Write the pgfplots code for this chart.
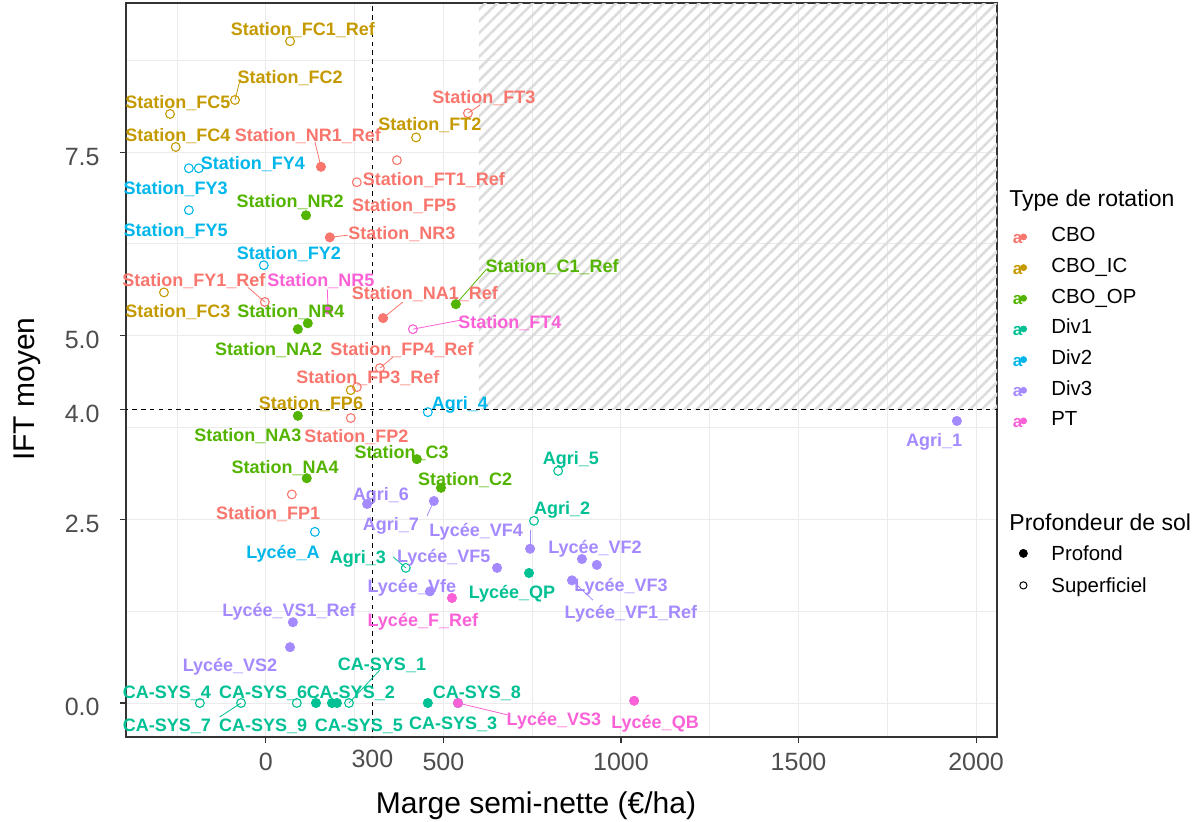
\documentclass[border=0pt]{standalone}
\usepackage{fontspec}
\setmainfont{Liberation Sans}
\usepackage{pgfplots}
\pgfplotsset{compat=1.18}
\usetikzlibrary{patterns.meta}
\definecolor{cCBO}{HTML}{F8766D}
\definecolor{cIC}{HTML}{C49A00}
\definecolor{cOP}{HTML}{53B400}
\definecolor{cDa}{HTML}{00C094}
\definecolor{cDb}{HTML}{00B6EB}
\definecolor{cDc}{HTML}{A58AFF}
\definecolor{cPT}{HTML}{FB61D7}
\definecolor{gridc}{HTML}{EBEBEB}
\definecolor{hatchc}{HTML}{DCDCDC}
\definecolor{tickc}{HTML}{4D4D4D}
\definecolor{framec}{HTML}{333333}

\tikzset{lab/.style={font=\bfseries\fontsize{9}{9}\selectfont, inner sep=0pt, text height=6.45pt, text depth=0pt, anchor=center}}
\newcommand{\lab}[4]{\node[lab, text=#1] at (axis cs:#2,#3) {#4};}
\newcommand{\seg}[5]{\addplot[forget plot, mark=none, color=#1, line width=0.4pt] coordinates {(#2,#3) (#4,#5)};}
\pgfplotsset{
  keyA/.style={legend image code/.code={%
    \path[draw=none, fill=none] (0pt,-3pt) rectangle (13pt,3pt);
    \node[draw=none, inner sep=0pt, font=\bfseries\fontsize{8.5}{8.5}\selectfont, text height=4.4pt, text depth=0pt, anchor=center] at (5.6pt,-0.2pt) {a};
    \fill (8.6pt,0.8pt) circle (1.5pt);}},
  fillpt/.style={only marks, mark=*, mark size=2.3pt, forget plot},
  openpt/.style={only marks, mark=o, mark size=2.2pt, line width=0.55pt, forget plot},
}

\begin{document}
\begin{tikzpicture}
\begin{axis}[
  at={(0,0)}, anchor=south west,
  scale only axis, width=435.5pt, height=367pt,
  xmin=-394, xmax=2059, ymin=-0.463, ymax=9.53,
  axis line style={framec, line width=0.55pt},
  xtick={0,500,1000,1500,2000},
  xticklabels={0,500,1000,1500,2000},
  extra x ticks={300}, extra x tick labels={300},
  extra x tick style={major tick length=0pt, xticklabel style={yshift=-2pt}},
  ytick={0,2.5,4,5,7.5},
  yticklabels={0.0,2.5,4.0,5.0,7.5},
  minor xtick={-250,0,250,500,750,1000,1250,1500,1750,2000},
  minor ytick={0,1.25,2.5,3.75,5,6.25,7.5,8.75},
  minor tick length=0pt,
  xminorgrids, yminorgrids,
  minor grid style={gridc, line width=0.5pt},
  tick align=outside, tick pos=left,
  major tick length=3.2pt,
  tick style={framec, line width=0.55pt},
  ticklabel style={font=\fontsize{12.5}{12.5}\selectfont, text=tickc, inner sep=0pt, text height=8.95pt, text depth=0pt},
  xticklabel style={anchor=north, yshift=-4.3pt},
  yticklabel style={anchor=east, xshift=-9.8pt, yshift=-2pt},
  xlabel={Marge semi-nette (€/ha)},
  ylabel={IFT moyen},
  xlabel style={font=\fontsize{15}{15}\selectfont, at={(axis description cs:0.4707,-0.0899)}, anchor=center, inner sep=0pt, text height=10.7pt, text depth=0pt},
  ylabel style={font=\fontsize{15}{15}\selectfont, at={(axis description cs:-0.1171,0.474)}, anchor=center, inner sep=0pt, text height=10.7pt, text depth=0pt},
  clip mode=individual,
  legend style={at={(1.0103,0.7005)}, anchor=north west, draw=none, fill=none, inner sep=0pt, row sep=0pt, column sep=9.5pt, font=\fontsize{10.2}{10.2}\selectfont, nodes={inner sep=0pt, text height=9.32pt, text depth=6.01pt}},
  legend cell align=left,
]
% hatched zone
\addplot[forget plot, draw=none, mark=none, pattern={Lines[angle=45,distance=4.2pt,line width=1.3pt]}, pattern color=hatchc] coordinates {(600,4) (2200,4) (2200,10) (600,10) (600,4)};
% reference lines
\addplot[forget plot, mark=none, black, line width=0.5pt, dash pattern=on 2.2pt off 2.2pt] coordinates {(300,-1) (300,10)};
\addplot[forget plot, mark=none, black, line width=0.5pt, dash pattern=on 2.2pt off 2.2pt] coordinates {(-500,4) (2200,4)};

% CBO
\addplot[fillpt, color=cCBO] coordinates {(155,7.30) (180,6.34) (330,5.24)};
\addplot[openpt, color=cCBO] coordinates {(256,7.09) (369,7.39) (569,8.03) (-3,5.46) (321,4.56) (256,4.30) (239,3.88) (73,2.84)};
% CBO_IC
\addplot[openpt, color=cIC] coordinates {(68,9.01) (-87,8.21) (-270,8.02) (-254,7.57) (423,7.70) (-287,5.59) (239,4.26)};
% CBO_OP
\addplot[fillpt, color=cOP] coordinates {(113,6.64) (118,5.17) (90,5.09) (535,5.43) (90,3.91) (425,3.32) (115,3.06) (493,2.93)};
% Div1
\addplot[fillpt, color=cDa] coordinates {(741,1.77) (141,0) (186,0) (200,0) (456,0) (541,0)};
\addplot[openpt, color=cDa] coordinates {(823,3.16) (755,2.48) (394,1.84) (-186,0) (-70,0) (87,0) (234,0)};
% Div2
\addplot[openpt, color=cDb] coordinates {(-217,7.28) (-189,7.28) (-217,6.71) (-6,5.96) (456,3.96) (138,2.33)};
% Div3
\addplot[fillpt, color=cDc] coordinates {(1946,3.84) (285,2.71) (473,2.75) (651,1.84) (462,1.52) (76,1.10) (68,0.76) (744,2.10) (890,1.96) (932,1.88) (862,1.67)};
% PT
\addplot[fillpt, color=cPT] coordinates {(175,5.36) (524,1.43) (541,0) (1037,0.03)};
\addplot[openpt, color=cPT] coordinates {(414,5.09)};

% leader segments
\seg{cIC}{-87}{8.21}{-73}{8.48}
\seg{cCBO}{155}{7.30}{138}{7.64}
\seg{cCBO}{180}{6.34}{231}{6.37}
\seg{cCBO}{569}{8.03}{603}{8.14}
\seg{cCBO}{-3}{5.46}{-51}{5.66}
\seg{cPT}{175}{5.36}{173}{5.63}
\seg{cCBO}{330}{5.24}{386}{5.46}
\seg{cOP}{535}{5.43}{620}{5.90}
\seg{cPT}{414}{5.09}{546}{5.21}
\seg{cCBO}{321}{4.56}{358}{4.71}
\seg{cDc}{473}{2.75}{454}{2.55}
\seg{cDa}{394}{1.84}{358}{1.99}
\seg{cDc}{744}{2.10}{744}{2.35}
\seg{cDc}{862}{1.67}{921}{1.40}
\seg{cDa}{234}{0}{321}{0.45}
\seg{cDa}{-70}{0}{-130}{-0.19}
\seg{cPT}{541}{0}{679}{-0.16}

% labels CBO
\lab{cCBO}{118}{7.73}{Station\_NR1\_Ref}
\lab{cCBO}{383}{6.40}{Station\_NR3}
\lab{cCBO}{473}{7.13}{Station\_FT1\_Ref}
\lab{cCBO}{389}{6.78}{Station\_FP5}
\lab{cCBO}{614}{8.25}{Station\_FT3}
\lab{cCBO}{-203}{5.76}{Station\_FY1\_Ref}
\lab{cCBO}{448}{5.58}{Station\_NA1\_Ref}
\lab{cCBO}{383}{4.82}{Station\_FP4\_Ref}
\lab{cCBO}{287}{4.44}{Station\_FP3\_Ref}
\lab{cCBO}{255}{3.63}{Station\_FP2}
\lab{cCBO}{6}{2.59}{Station\_FP1}
% labels CBO_IC
\lab{cIC}{104}{9.17}{Station\_FC1\_Ref}
\lab{cIC}{68}{8.52}{Station\_FC2}
\lab{cIC}{-248}{8.18}{Station\_FC5}
\lab{cIC}{-248}{7.73}{Station\_FC4}
\lab{cIC}{462}{7.88}{Station\_FT2}
\lab{cIC}{-248}{5.34}{Station\_FC3}
\lab{cIC}{127}{4.08}{Station\_FP6}
% labels CBO_OP
\lab{cOP}{68}{6.83}{Station\_NR2}
\lab{cOP}{70}{5.34}{Station\_NR4}
\lab{cOP}{8}{4.82}{Station\_NA2}
\lab{cOP}{806}{5.95}{Station\_C1\_Ref}
\lab{cOP}{-51}{3.65}{Station\_NA3}
\lab{cOP}{382}{3.42}{Station\_C3}
\lab{cOP}{54}{3.21}{Station\_NA4}
\lab{cOP}{561}{3.05}{Station\_C2}
% labels Div1
\lab{cDa}{259}{1.99}{Agri\_3}
\lab{cDa}{-279}{0.15}{CA-SYS\_4}
\lab{cDa}{-8}{0.15}{CA-SYS\_6}
\lab{cDa}{239}{0.15}{CA-SYS\_2}
\lab{cDa}{327}{0.53}{CA-SYS\_1}
\lab{cDa}{-279}{-0.30}{CA-SYS\_7}
\lab{cDa}{-8}{-0.30}{CA-SYS\_9}
\lab{cDa}{262}{-0.30}{CA-SYS\_5}
\lab{cDa}{594}{0.15}{CA-SYS\_8}
\lab{cDa}{527}{-0.27}{CA-SYS\_3}
\lab{cDa}{859}{3.33}{Agri\_5}
\lab{cDa}{834}{2.65}{Agri\_2}
\lab{cDa}{693}{1.51}{Lycée\_QP}
% labels Div2
\lab{cDb}{-37}{7.35}{Station\_FY4}
\lab{cDb}{-254}{7.01}{Station\_FY3}
\lab{cDb}{-254}{6.44}{Station\_FY5}
\lab{cDb}{65}{6.12}{Station\_FY2}
\lab{cDb}{546}{4.08}{Agri\_4}
\lab{cDb}{48}{2.06}{Lycée\_A}
% labels Div3
\lab{cDc}{324}{2.84}{Agri\_6}
\lab{cDc}{352}{2.44}{Agri\_7}
\lab{cDc}{501}{2.00}{Lycée\_VF5}
\lab{cDc}{411}{1.59}{Lycée\_Vfe}
\lab{cDc}{65}{1.27}{Lycée\_VS1\_Ref}
\lab{cDc}{-101}{0.52}{Lycée\_VS2}
\lab{cDc}{592}{2.35}{Lycée\_VF4}
\lab{cDc}{927}{2.12}{Lycée\_VF2}
\lab{cDc}{1000}{1.61}{Lycée\_VF3}
\lab{cDc}{1028}{1.24}{Lycée\_VF1\_Ref}
\lab{cDc}{1882}{3.58}{Agri\_1}
% labels PT
\lab{cPT}{155}{5.76}{Station\_NR5}
\lab{cPT}{687}{5.19}{Station\_FT4}
\lab{cPT}{442}{1.13}{Lycée\_F\_Ref}
\lab{cPT}{811}{-0.22}{Lycée\_VS3}
\lab{cPT}{1096}{-0.26}{Lycée\_QB}

% legend: Type de rotation
\addlegendimage{keyA, color=cCBO}\addlegendentry{CBO}
\addlegendimage{keyA, color=cIC}\addlegendentry{CBO\_IC}
\addlegendimage{keyA, color=cOP}\addlegendentry{CBO\_OP}
\addlegendimage{keyA, color=cDa}\addlegendentry{Div1}
\addlegendimage{keyA, color=cDb}\addlegendentry{Div2}
\addlegendimage{keyA, color=cDc}\addlegendentry{Div3}
\addlegendimage{keyA, color=cPT}\addlegendentry{PT}
\end{axis}

\begin{axis}[
  at={(0,0)}, anchor=south west,
  scale only axis, width=435.5pt, height=367pt,
  hide axis, xmin=0, xmax=1, ymin=0, ymax=1,
  legend style={at={(1.0103,0.2725)}, anchor=north west, draw=none, fill=none, inner sep=0pt, row sep=0pt, column sep=9.5pt, font=\fontsize{10.2}{10.2}\selectfont, nodes={inner sep=0pt, text height=11.65pt, text depth=4.35pt}},
  legend cell align=left,
]
\addlegendimage{black, legend image code/.code={\path[draw=none, fill=none] (0pt,-3pt) rectangle (13pt,3pt); \fill (8.5pt,0pt) circle (2pt);}}
\addlegendentry{Profond}
\addlegendimage{black, legend image code/.code={\path[draw=none, fill=none] (0pt,-3pt) rectangle (13pt,3pt); \draw[line width=0.5pt, fill=none] (8.5pt,0pt) circle (1.8pt);}}
\addlegendentry{Superficiel}
\end{axis}

\node[anchor=west, inner sep=0pt, font=\fontsize{11.5}{11.5}\selectfont, text height=8.23pt, text depth=0pt] at (441.5pt,269.5pt) {Type de rotation};
\node[anchor=west, inner sep=0pt, font=\fontsize{11.5}{11.5}\selectfont, text height=8.23pt, text depth=0pt] at (441.5pt,107.5pt) {Profondeur de sol};

\pgfresetboundingbox
\path (-63pt,-42pt) rectangle (538pt,368.5pt);
\end{tikzpicture}
\end{document}
